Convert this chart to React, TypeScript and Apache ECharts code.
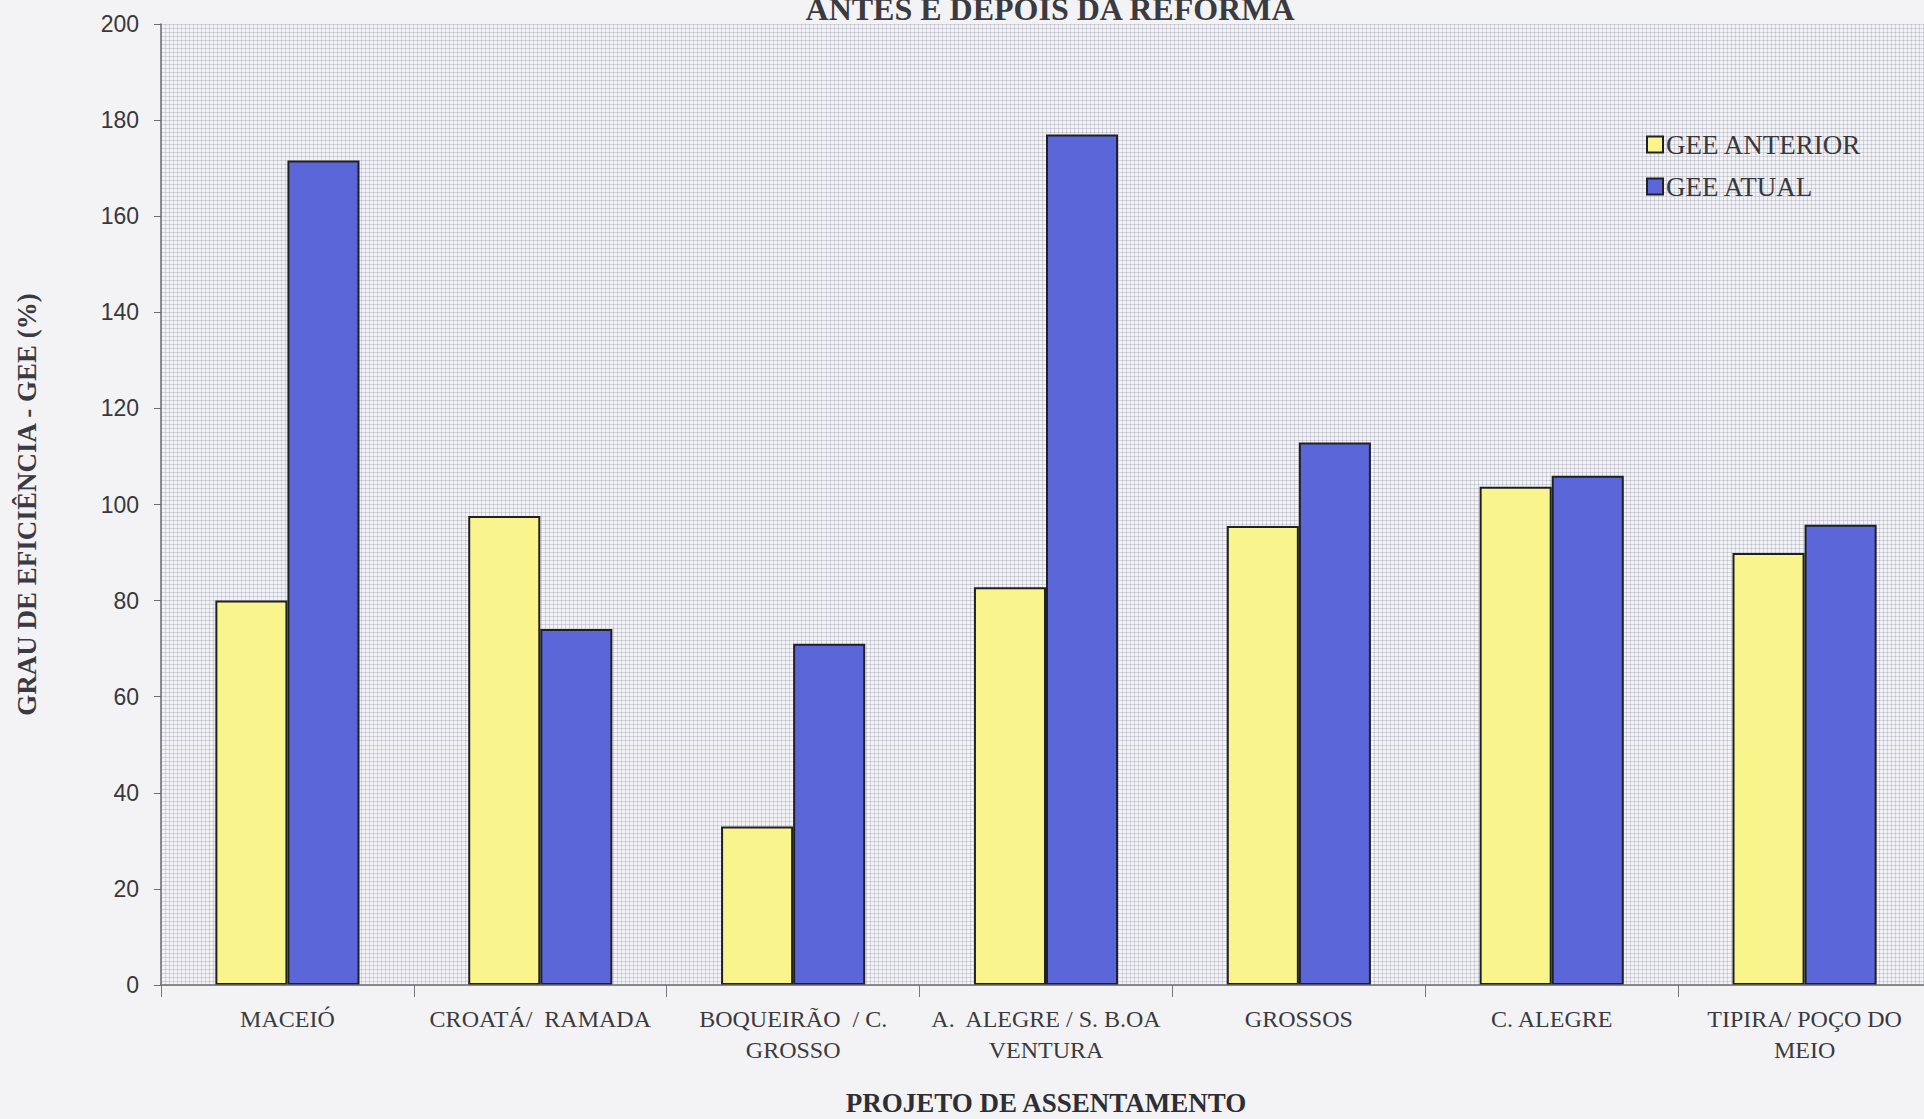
import React, { useEffect, useRef } from "react";
import * as echarts from "echarts";

// Settlement projects (line breaks follow the printed axis labels)
const categories = [
  "MACEIÓ",
  "CROATÁ/  RAMADA",
  "BOQUEIRÃO  / C.\nGROSSO",
  "A.  ALEGRE / S. B.OA\nVENTURA",
  "GROSSOS",
  "C. ALEGRE",
  "TIPIRA/ POÇO DO\nMEIO",
];

// Efficiency grade (%) before and after the reform
const geeAnterior = [80, 97.6, 33, 82.8, 95.5, 103.7, 89.9];
const geeAtual = [171.6, 74.1, 71, 177, 112.9, 106, 95.8];

const yTicks = { min: 0, max: 200, interval: 20 };

const titleText = "ANTES E DEPOIS DA REFORMA";
const xName = "PROJETO DE ASSENTAMENTO";
const yName = "GRAU DE EFICIÊNCIA - GEE (%)";
const seriesNames = ["GEE ANTERIOR", "GEE ATUAL"];

const SERIF = "'Liberation Serif', 'DejaVu Serif', serif";
const SANS = "'Liberation Sans', Arial, sans-serif";

export default function App() {
  const ref = useRef<HTMLDivElement>(null);

  useEffect(() => {
    if (!ref.current) return;
    const chart = echarts.init(ref.current, null, { renderer: "svg" });

    const textureLine = { show: true, lineStyle: { color: "rgba(150,150,165,0.34)", width: 1 } };
    const hiddenAxisParts = {
      axisLine: { show: false },
      axisTick: { show: false },
      axisLabel: { show: false },
    };

    chart.setOption({
      animation: false,
      backgroundColor: "#f3f3f5",
      graphic: [
        {
          type: "text",
          x: 1050,
          y: -7,
          z: 10,
          style: {
            text: titleText,
            textAlign: "center",
            textVerticalAlign: "top",
            fontFamily: SERIF,
            fontWeight: "bold",
            fontSize: 32,
            fill: "#3a3a40",
          },
        },
      ],
      legend: {
        orient: "vertical",
        left: 1641,
        top: 126,
        itemWidth: 16,
        itemHeight: 16,
        itemGap: 15,
        icon: "rect",
        data: seriesNames,
        textStyle: {
          fontFamily: SERIF,
          fontSize: 27,
          color: "#38383c",
          padding: [0, 0, 0, -2],
        },
      },
      grid: {
        left: 161,
        right: -7,
        top: 24,
        bottom: 134,
        outerBoundsMode: "none",
        containLabel: false,
        show: true,
        backgroundColor: "#f3f3f7",
        borderWidth: 0,
      },
      xAxis: [
        {
          type: "category",
          data: categories,
          name: xName,
          nameLocation: "middle",
          nameGap: 104,
          nameTextStyle: {
            fontFamily: SERIF,
            fontWeight: "bold",
            fontSize: 27,
            color: "#2e2e34",
          },
          axisLine: { lineStyle: { color: "#6a6a70", width: 1.5 } },
          axisTick: { show: true, length: 12, lineStyle: { color: "#77777c" } },
          axisLabel: {
            interval: 0,
            margin: 18,
            fontFamily: SERIF,
            fontSize: 24,
            lineHeight: 31,
            color: "#3a3a3e",
          },
          z: 5,
        },
        {
          // fine background texture (vertical hairlines)
          type: "value",
          min: 0,
          max: 1768,
          interval: 4,
          position: "top",
          ...hiddenAxisParts,
          splitLine: textureLine,
          z: 0,
        },
      ],
      yAxis: [
        {
          type: "value",
          ...yTicks,
          name: yName,
          nameLocation: "middle",
          nameGap: 121,
          nameTextStyle: {
            fontFamily: SERIF,
            fontWeight: "bold",
            fontSize: 27,
            color: "#3a3a42",
          },
          axisLine: { show: true, lineStyle: { color: "#6a6a70", width: 1.5 } },
          axisTick: { show: true, length: 7, lineStyle: { color: "#6a6a70" } },
          axisLabel: {
            margin: 22,
            fontFamily: SANS,
            fontSize: 23,
            color: "#38383c",
          },
          splitLine: { show: false },
          z: 5,
        },
        {
          // fine background texture (horizontal hairlines)
          type: "value",
          min: 0,
          max: 960,
          interval: 4,
          position: "right",
          ...hiddenAxisParts,
          splitLine: textureLine,
          z: 0,
        },
      ],
      series: [
        {
          name: seriesNames[0],
          type: "bar",
          xAxisIndex: 0,
          yAxisIndex: 0,
          data: geeAnterior,
          barGap: "0%",
          barCategoryGap: "43%",
          itemStyle: { color: "#f9f48c", borderColor: "#1f1f24", borderWidth: 2 },
          z: 3,
        },
        {
          name: seriesNames[1],
          type: "bar",
          xAxisIndex: 0,
          yAxisIndex: 0,
          data: geeAtual,
          barGap: "0%",
          barCategoryGap: "43%",
          itemStyle: { color: "#5b66d8", borderColor: "#1f1f24", borderWidth: 2 },
          z: 3,
        },
      ],
    });

    return () => chart.dispose();
  }, []);

  return (
    <div
      ref={ref}
      style={{ position: "fixed", left: 0, top: 0, width: 1924, height: 1119 }}
    />
  );
}
